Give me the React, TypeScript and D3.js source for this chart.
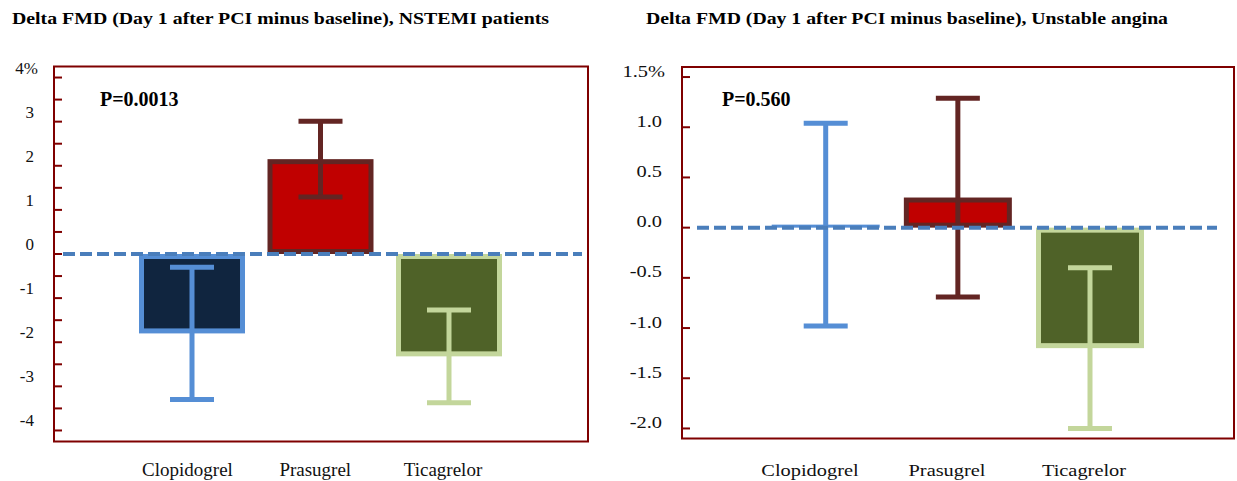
import React from "react";
import * as d3 from "d3";

// Treatment groups and change in FMD (mean, error-bar half-width), in %
const drugs = ["Clopidogrel", "Prasugrel", "Ticagrelor"];
const nstemiMeans = [-1.8, 2.15, -2.32];
const nstemiErrors = [1.5, 0.86, 1.05];
const anginaMeans = [0.03, 0.3, -1.2];
const anginaErrors = [1.01, 0.99, 0.8];

// Axis ticks and labels
const nstemiTickMarks = [-4, -3.5, -3, -2.5, -2, -1.5, -1, -0.5, 0, 0.5, 1, 1.5, 2, 2.5, 3, 3.5, 4];
const nstemiLabelTicks = [-4, -3, -2, -1, 0, 1, 2, 3, 4];
const nstemiLabels = ["-4", "-3", "-2", "-1", "0", "1", "2", "3", "4%"];
const anginaTickMarks = [-2, -1.5, -1, -0.5, 0, 0.5, 1, 1.5];
const anginaLabelTicks = [-2, -1.5, -1, -0.5, 0, 0.5, 1, 1.5];
const anginaLabels = ["-2.0", "-1.5", "-1.0", "-0.5", "0.0", "0.5", "1.0", "1.5%"];

const titles = [
  "Delta FMD (Day 1 after PCI minus baseline), NSTEMI patients",
  "Delta FMD (Day 1 after PCI minus baseline), Unstable angina",
];
const pValues = ["P=0.0013", "P=0.560"];

const borderColors = ["#558ED5", "#632523", "#C3D69B"];
const fillColors = ["#10253F", "#C00000", "#4F6228"];
const frameColor = "#7F0000";
const zeroColor = "#4A7EBB";
const FONT = "'Liberation Serif', 'Times New Roman', serif";

type PanelProps = {
  means: number[];
  errors: number[];
  domain: [number, number];
  yRange: [number, number];
  frameX: [number, number];
  centers: [number, number];
  labelCenters: [number, number];
  tickMarks: number[];
  labelTicks: number[];
  labels: string[];
  labelRight: number;
  topLabelRight: number;
  labelShift: number;
  textStretch: number;
  catFontSize: number;
  title: string;
  titleX: number;
  titleLen: number;
  pText: string;
  pX: number;
  zeroX: [number, number];
  barWidth: number;
};

function Panel(p: PanelProps) {
  const y = d3.scaleLinear().domain(p.domain).range(p.yRange);
  const x = d3.scalePoint<string>().domain(drugs).range(p.centers);
  const xl = d3.scalePoint<string>().domain(drugs).range(p.labelCenters);
  const [fx0, fx1] = p.frameX;
  const top = y(p.domain[1]);
  const bottom = y(p.domain[0]);
  const border = 5;
  const capW = 44;
  const y0 = y(0);
  const sx = p.textStretch;

  return (
    <g>
      <text x={p.titleX} y={24} fontFamily={FONT} fontWeight="bold" fontSize={17}
        textLength={p.titleLen} lengthAdjust="spacingAndGlyphs" fill="#000">
        {p.title}
      </text>

      {/* bars: outer rectangle in the border colour, inner in the fill colour */}
      {drugs.map((d, i) => {
        const cx = x(d)!;
        const yv = y(p.means[i]);
        const y1 = Math.min(yv, y0);
        const h = Math.abs(yv - y0);
        const innerH = h - 2 * border;
        return (
          <g key={"bar" + d}>
            <rect x={cx - p.barWidth / 2} y={y1} width={p.barWidth} height={Math.max(h, 1)}
              fill={borderColors[i]} />
            {innerH > 0 && (
              <rect x={cx - p.barWidth / 2 + border} y={y1 + border}
                width={p.barWidth - 2 * border} height={innerH} fill={fillColors[i]} />
            )}
          </g>
        );
      })}

      {/* error bars */}
      {drugs.map((d, i) => {
        const cx = x(d)!;
        const hi = y(p.means[i] + p.errors[i]);
        const lo = y(p.means[i] - p.errors[i]);
        return (
          <g key={"err" + d} stroke={borderColors[i]} strokeWidth={5}>
            <line x1={cx} x2={cx} y1={hi} y2={lo} />
            <line x1={cx - capW / 2} x2={cx + capW / 2} y1={hi} y2={hi} />
            <line x1={cx - capW / 2} x2={cx + capW / 2} y1={lo} y2={lo} />
          </g>
        );
      })}

      {/* zero reference line */}
      <line x1={p.zeroX[0]} x2={p.zeroX[1]} y1={y0} y2={y0} stroke={zeroColor}
        strokeWidth={4} strokeDasharray="12 5" />

      {/* frame */}
      <rect x={fx0} y={top} width={fx1 - fx0} height={bottom - top} fill="none"
        stroke={frameColor} strokeWidth={2} />

      {/* y ticks, pointing into the plot */}
      {p.tickMarks.map((t) => (
        <line key={"t" + t} x1={fx0} x2={fx0 + 8} y1={y(t)} y2={y(t)} stroke={frameColor} strokeWidth={2} />
      ))}
      {p.labelTicks.map((t, i) => {
        const isTop = i === p.labelTicks.length - 1;
        const tx = isTop ? p.topLabelRight : p.labelRight;
        return (
          <text key={"l" + t} transform={`translate(${tx},${y(t) + p.labelShift}) scale(${sx},1)`}
            textAnchor="end" fontFamily={FONT} fontSize={17} fill="#111">
            {p.labels[i]}
          </text>
        );
      })}

      <text x={p.pX} y={106} fontFamily={FONT} fontWeight="bold" fontSize={20} fill="#000">
        {p.pText}
      </text>

      {drugs.map((d) => (
        <text key={"x" + d} transform={`translate(${xl(d)!},476) scale(${sx},1)`}
          textAnchor="middle" fontFamily={FONT} fontSize={p.catFontSize} fill="#111">
          {d}
        </text>
      ))}
    </g>
  );
}

export default function App() {
  return (
    <svg width={1237} height={481} style={{ position: "absolute", left: 0, top: 0, background: "#fff" }}>
      <rect width={1237} height={481} fill="#fff" />
      <Panel
        means={nstemiMeans}
        errors={nstemiErrors}
        domain={[-4.25, 4.25]}
        yRange={[441.5, 66.5]}
        frameX={[54, 588]}
        centers={[192, 449]}
        labelCenters={[187.5, 443]}
        tickMarks={nstemiTickMarks}
        labelTicks={nstemiLabelTicks}
        labels={nstemiLabels}
        labelRight={34}
        topLabelRight={38}
        labelShift={-4}
        textStretch={1}
        catFontSize={19}
        title={titles[0]}
        titleX={12}
        titleLen={537}
        pText={pValues[0]}
        pX={100}
        zeroX={[63, 582]}
        barWidth={106}
      />
      <Panel
        means={anginaMeans}
        errors={anginaErrors}
        domain={[-2.1, 1.6]}
        yRange={[438.5, 67]}
        frameX={[682, 1234]}
        centers={[825.7, 1090]}
        labelCenters={[810, 1084]}
        tickMarks={anginaTickMarks}
        labelTicks={anginaLabelTicks}
        labels={anginaLabels}
        labelRight={662}
        topLabelRight={665}
        labelShift={-0.5}
        textStretch={1.2}
        catFontSize={17}
        title={titles[1]}
        titleX={646}
        titleLen={522}
        pText={pValues[1]}
        pX={722}
        zeroX={[697, 1217]}
        barWidth={108}
      />
    </svg>
  );
}
